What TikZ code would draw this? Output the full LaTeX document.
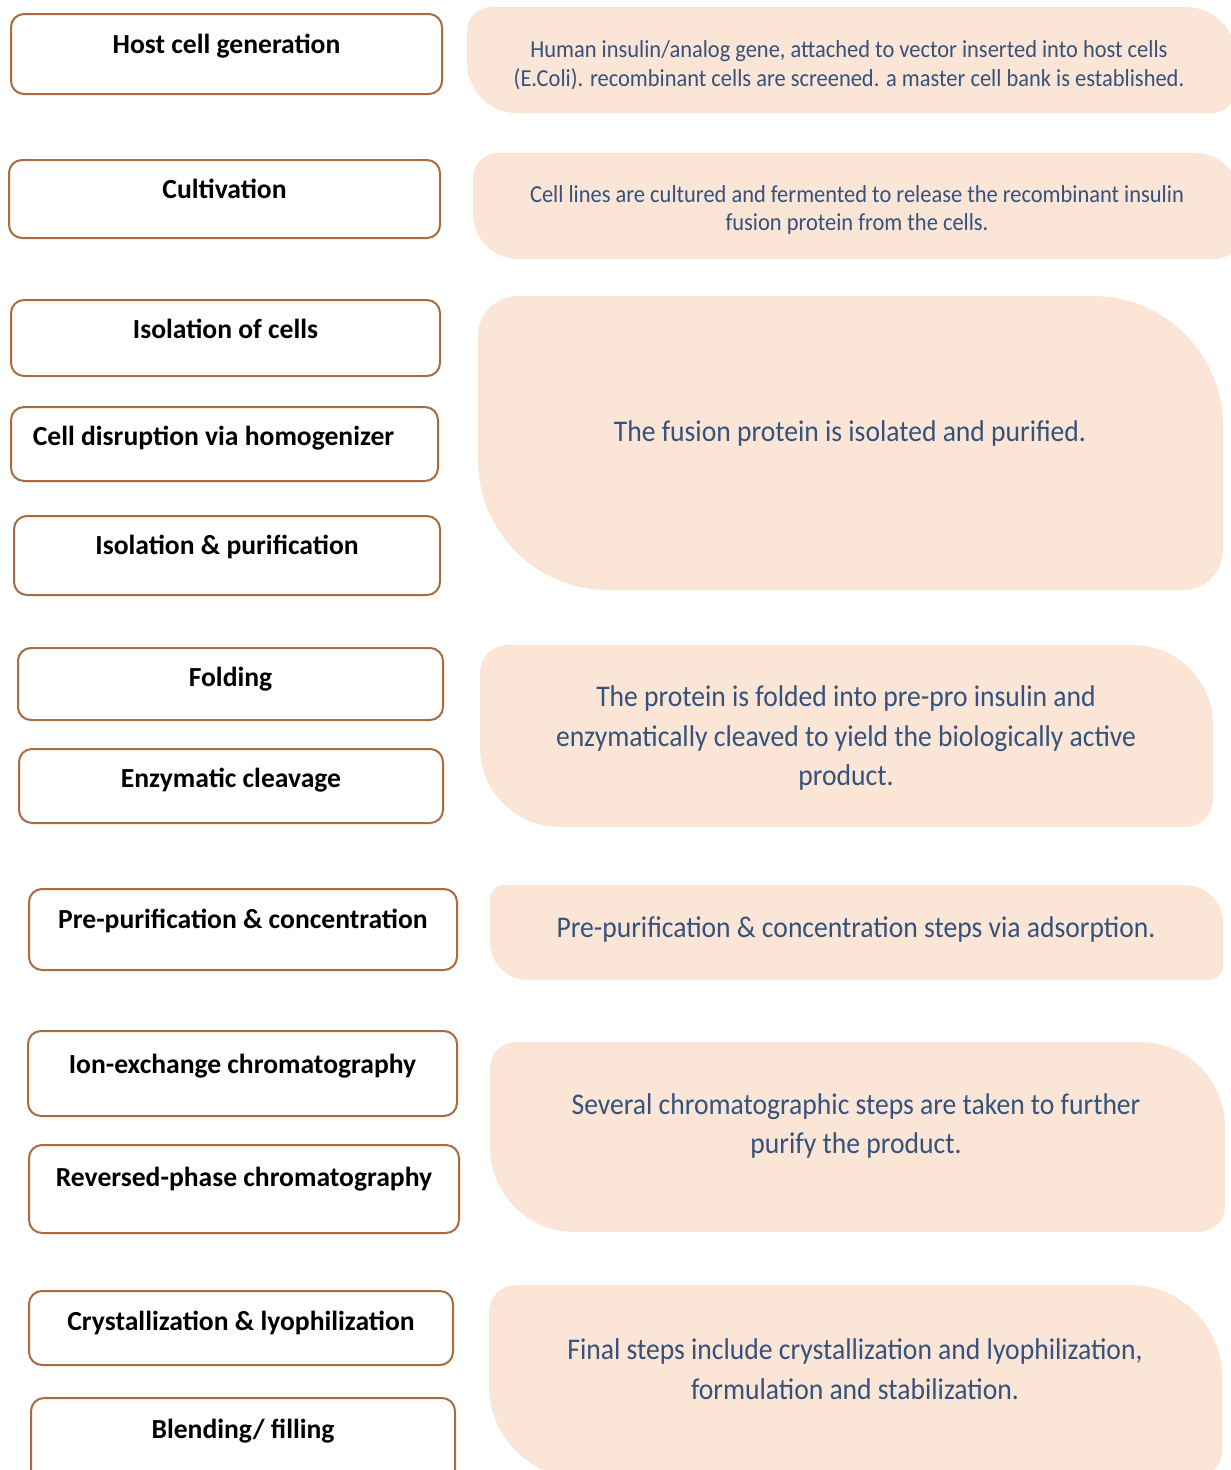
\documentclass[tikz,border=0pt]{standalone}
\usepackage{fontspec}
\setmainfont{Carlito}
\newfontfamily\notefont[FakeStretch=0.92]{Carlito}
\definecolor{edge}{RGB}{168,108,66}
\definecolor{peach}{RGB}{251,229,214}
\definecolor{ink}{RGB}{52,82,124}

% panel with small rounding top-left/bottom-right and large rounding top-right/bottom-left
% #1 x0, #2 y0, #3 x1, #4 y1, #5 small radius, #6 large radius
\newcommand\diagpanel[6]{%
  \pgfmathsetmacro\pka{#5*0.4477}%
  \pgfmathsetmacro\pkb{#6*0.4477}%
  \fill[panel] (#1,#2+#5) .. controls (#1,#2+\pka) and (#1+\pka,#2) .. (#1+#5,#2)
    -- (#3-#6,#2) .. controls (#3-\pkb,#2) and (#3,#2+\pkb) .. (#3,#2+#6)
    -- (#3,#4-#5) .. controls (#3,#4-\pka) and (#3-\pka,#4) .. (#3-#5,#4)
    -- (#1+#6,#4) .. controls (#1+\pkb,#4) and (#1,#4-\pkb) .. (#1,#4-#6) -- cycle;
}
% step box: #1 name, #2 x0, #3 y0, #4 x1, #5 y1, #6 baseline offset below top, #7 x shift, #8 text
\newcommand\stepnode[8]{%
  \pgfmathsetmacro\bw{#4-#2}%
  \pgfmathsetmacro\bh{#5-#3}%
  \node[stepbox, minimum width=\bw pt, minimum height=\bh pt, anchor=north west] (#1) at (#2,#3) {};
  \node[steplabel, anchor=base] (#1-t) at ([xshift=#7pt, yshift=-#6pt]#1.north) {#8};
}

\begin{document}
\begin{tikzpicture}[x=1pt,y=-1pt,
  stepbox/.style={draw=edge, line width=2pt, rounded corners=13pt, fill=white, inner sep=0pt},
  steplabel/.style={font=\fontsize{27.6}{32}\selectfont\bfseries, text=black, inner sep=0pt},
  note/.style={font=\notefont\fontsize{30}{39.5}\selectfont, text=ink, align=center, inner sep=0pt},
  smallnote/.style={font=\notefont\fontsize{24.4}{28.5}\selectfont, text=ink, align=center, inner sep=0pt},
  panel/.style={fill=peach}]
\useasboundingbox (0,0) rectangle (1231,1470);
\fill[white] (0,0) rectangle (1231,1470);
\clip (0,0) rectangle (1231,1470);

% left column: process steps
\stepnode{s1}{10}{13}{441}{93}{40}{0}{Host cell generation}
\stepnode{s2}{8}{159}{439}{237}{39}{0}{Cultivation}
\stepnode{s3}{10}{299}{439}{375}{39}{0}{Isolation of cells}
\stepnode{s4}{10}{406}{437}{480}{39}{-11}{Cell disruption via homogenizer}
\stepnode{s5}{13}{515}{439}{594}{39}{0}{Isolation \& purification}
\stepnode{s6}{17}{647}{442}{719}{39}{0}{Folding}
\stepnode{s7}{18}{748}{442}{822}{39}{0}{Enzymatic cleavage}
\stepnode{s8}{28}{888}{456}{969}{40}{0}{Pre-purification \& concentration}
\stepnode{s9}{27}{1030}{456}{1115}{43}{0}{Ion-exchange chromatography}
\stepnode{s10}{28}{1144}{458}{1232}{42}{0}{Reversed-phase chromatography}
\stepnode{s11}{28}{1290}{452}{1364}{40}{0}{Crystallization \& lyophilization}
\stepnode{s12}{30}{1397}{454}{1500}{41}{0}{Blending/ filling}

% right column: descriptions
\diagpanel{467}{7}{1236}{113}{24}{50}
\node[smallnote] (d1) at (849,65) {Human insulin/analog gene, attached to vector inserted into host cells\\(E.Coli). recombinant cells are screened. a master cell bank is established.};

\diagpanel{473}{153}{1240}{259}{25}{45}
\node[smallnote] (d2) at (857,210) {Cell lines are cultured and fermented to release the recombinant insulin\\fusion protein from the cells.};

\diagpanel{478}{296}{1223}{590}{40}{130}
\node[note] (d3) at (850,433) {The fusion protein is isolated and purified.};

\diagpanel{480}{645}{1213}{827}{28}{80}
\node[note] (d4) at (846,738) {The protein is folded into pre-pro insulin and\\enzymatically cleaved to yield the biologically active\\product.};

\diagpanel{490}{885}{1223}{980}{14}{38}
\node[note] (d5) at (856,929) {Pre-purification \& concentration steps via adsorption.};

\diagpanel{490}{1042}{1225}{1232}{26}{85}
\node[note] (d6) at (856,1126) {Several chromatographic steps are taken to further\\purify the product.};

\diagpanel{489}{1285}{1222}{1478}{27}{92}
\node[note] (d7) at (855,1369) {Final steps include crystallization and lyophilization,\\formulation and stabilization.};
\end{tikzpicture}
\end{document}
